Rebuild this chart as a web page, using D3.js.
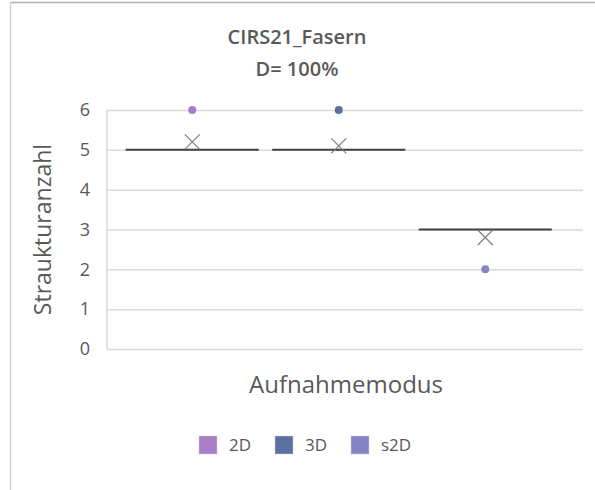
<!DOCTYPE html>
<html>
<head>
<meta charset="utf-8">
<script src="https://cdn.jsdelivr.net/npm/d3@7"></script>
<style>
  body { margin: 0; background: #fff; }
  text { font-family: "Open Sans", "Noto Sans", sans-serif; fill: #595959; }
</style>
</head>
<body>
<div id="chart"></div>
<script>
// Data
const categories = ["2D", "3D", "s2D"]
const medians = [5, 5, 3]
const q1s = [5, 5, 3]
const q3s = [5, 5, 3]
const means = [5.2, 5.1, 2.8]
const outliers = [[6], [6], [2]]
const colors = ["#a77fc6", "#5a70a0", "#8683c9"]
const yTicks = [0, 1, 2, 3, 4, 5, 6]

const width = 595
const height = 490
const margin = {top: 110, right: 12, bottom: 141, left: 107}
const boundedWidth = width - margin.left - margin.right
const boundedHeight = height - margin.top - margin.bottom

const svg = d3.select("#chart")
  .append("svg")
    .attr("width", width)
    .attr("height", height)

// chart frame (only top + left visible in crop)
svg.append("line")
  .attr("x1", 10).attr("x2", width).attr("y1", 2.5).attr("y2", 2.5)
  .attr("stroke", "#b0b0b0").attr("stroke-width", 1.5)
svg.append("line")
  .attr("x1", 10.5).attr("x2", 10.5).attr("y1", 2).attr("y2", height)
  .attr("stroke", "#d0d0d0").attr("stroke-width", 1.5)

const bounds = svg.append("g")
  .attr("transform", `translate(${margin.left},${margin.top})`)

// Scales
// Excel leaves extra room on the right of the last box
const xScale = d3.scaleBand()
  .domain(categories)
  .range([12, 451.5])
  .padding(0)

const yScale = d3.scaleLinear()
  .domain([0, 6])
  .range([boundedHeight, 0])

// Gridlines + axis
const yAxis = bounds.append("g")
  .call(d3.axisLeft(yScale).tickValues(yTicks).tickFormat(d3.format("d"))
    .tickSize(-boundedWidth).tickPadding(17))
yAxis.select(".domain").remove()
yAxis.selectAll(".tick line").attr("stroke", "#d9d9d9").attr("stroke-width", 1.5)
yAxis.selectAll(".tick text")
  .attr("fill", "#595959")
  .style("font-size", "18px")

bounds.append("line")
  .attr("x1", 0).attr("x2", 0).attr("y1", 0).attr("y2", boundedHeight)
  .attr("stroke", "#d9d9d9").attr("stroke-width", 1.5)

// Boxes (collapsed, q1 = median = q3)
const groups = bounds.selectAll(".box")
  .data(categories)
  .join("g")
    .attr("class", "box")
    .attr("transform", d => `translate(${xScale(d)},0)`)

const boxInset = xScale.bandwidth() * 0.046

groups.append("rect")
  .attr("x", boxInset)
  .attr("width", xScale.bandwidth() - 2 * boxInset)
  .attr("y", (d, i) => yScale(q3s[i]))
  .attr("height", (d, i) => yScale(q1s[i]) - yScale(q3s[i]))
  .attr("fill", "none")
  .attr("stroke", "#404040")
  .attr("stroke-width", 1.5)

groups.append("line")
  .attr("x1", boxInset)
  .attr("x2", xScale.bandwidth() - boxInset)
  .attr("y1", (d, i) => yScale(medians[i]))
  .attr("y2", (d, i) => yScale(medians[i]))
  .attr("stroke", "#404040")
  .attr("stroke-width", 2)

// mean markers
const xSize = 7.5
groups.append("path")
  .attr("d", (d, i) => {
    const cx = xScale.bandwidth() / 2
    const cy = yScale(means[i])
    return `M${cx - xSize},${cy - xSize}L${cx + xSize},${cy + xSize}M${cx - xSize},${cy + xSize}L${cx + xSize},${cy - xSize}`
  })
  .attr("stroke", "#7f7f7f")
  .attr("stroke-width", 1.2)
  .attr("fill", "none")

// outliers
groups.each(function(d, i) {
  d3.select(this).selectAll("circle")
    .data(outliers[i])
    .join("circle")
      .attr("cx", xScale.bandwidth() / 2)
      .attr("cy", v => yScale(v))
      .attr("r", 4)
      .attr("fill", colors[i])
})

// Title
const title = svg.append("text")
  .attr("text-anchor", "middle")
  .style("font-size", "20px")
  .style("font-weight", 600)
title.append("tspan").attr("x", 297).attr("y", 44).text("CIRS21_Fasern")
title.append("tspan").attr("x", 297).attr("y", 76).text("D= 100%")

// Axis labels
svg.append("text")
  .attr("transform", `translate(51,${margin.top + boundedHeight / 2}) rotate(-90)`)
  .attr("text-anchor", "middle")
  .style("font-size", "23px")
  .text("Straukturanzahl")

svg.append("text")
  .attr("x", 346)
  .attr("y", 393)
  .attr("text-anchor", "middle")
  .style("font-size", "24px")
  .text("Aufnahmemodus")

// Legend
const legendX = [199, 275, 351]
const legend = svg.selectAll(".legend")
  .data(categories)
  .join("g")
    .attr("class", "legend")
    .attr("transform", (d, i) => `translate(${legendX[i]},436)`)

legend.append("rect")
  .attr("width", 18).attr("height", 18)
  .attr("fill", (d, i) => colors[i])
  .attr("stroke", "#d0d0d0").attr("stroke-width", 0.5)

legend.append("text")
  .attr("x", 30).attr("y", 15)
  .style("font-size", "17px")
  .text(d => d)
</script>
</body>
</html>
